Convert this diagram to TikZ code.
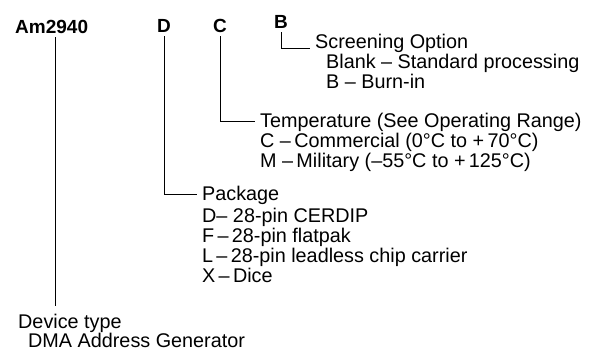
\documentclass[tikz,border=0pt]{standalone}
\usepackage{fontspec}
\setmainfont{Liberation Sans}
\usetikzlibrary{positioning}

\begin{document}
\begin{tikzpicture}[x=1pt,y=-1pt,
        code/.style={font=\fontsize{19}{19}\selectfont\bfseries, inner sep=0pt, anchor=base west},
        desc/.style={font=\fontsize{19.8}{20}\selectfont, inner sep=0pt, anchor=base west},
        lead/.style={line width=0.9pt, shorten <=4pt, shorten >=5pt}]
        \useasboundingbox (0,0) rectangle (597,360);

        % fields of the ordering code
        \node[code] (am)  at (15,33)  {Am2940};
        \node[code] (pkg) at (157,32) {D};
        \node[code] (tmp) at (213,32) {C};
        \node[code] (scr) at (274,28) {B};

        % screening
        \node[desc] (scrhead) at (315,48) {Screening Option};
        \foreach \txt [count=\i] in {Blank -- Standard processing, B -- Burn-in}
            \node[desc] (scropt\i) at (326,48+20*\i) {\txt};
        \draw[lead] (scr.south) |- (scrhead.base west);

        % temperature
        \node[desc] (tmphead) at (260,127) {Temperature (See Operating Range)};
        \foreach \txt [count=\i] in {C --\,Commercial (0°C to +\,70°C), M --\,Military (--55°C to +\,125°C)}
            \node[desc] (tmpopt\i) at (260,127+20*\i) {\txt};
        \draw[lead] (tmp.south) |- (tmphead.west);

        % package
        \node[desc] (pkghead) at (202,200) {Package};
        \foreach \txt [count=\i] in {D-- 28-pin CERDIP, F\,--\,28-pin flatpak, L\,--\,28-pin leadless chip carrier, X\,--\,Dice}
            \node[desc] (pkgopt\i) at (202,202+20*\i) {\txt};
        \draw[lead] (pkg.south) |- (pkghead.west);

        % device type
        \node[desc] (devhead) at (18,328) {Device type};
        \node[desc] (devopt)  at (28,347) {DMA Address Generator};
        \coordinate (amtap) at ([xshift=3.5pt]am.south);
        \draw[lead, shorten >=7pt] (amtap) -- (amtap |- devhead.north);
    \end{tikzpicture}
\end{document}
